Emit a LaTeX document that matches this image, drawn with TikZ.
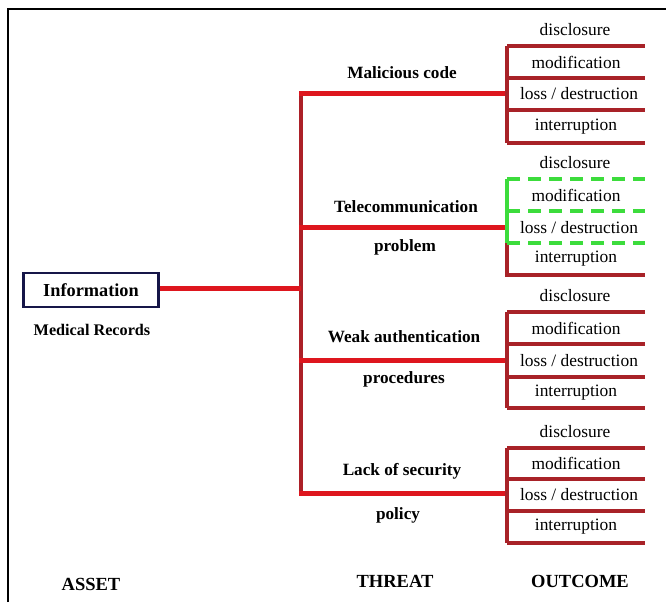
\documentclass[tikz,border=0pt]{standalone}
\usepackage{fontspec}
\setmainfont{Liberation Serif}
\definecolor{trunkred}{RGB}{172,32,40}
\definecolor{brightred}{RGB}{222,22,30}
\definecolor{outred}{RGB}{168,34,40}
\definecolor{dgreen}{RGB}{60,220,60}
\definecolor{navy}{RGB}{22,22,72}
\begin{document}
\begin{tikzpicture}[x=1pt,y=-1pt,
  trunkline/.style={draw=trunkred,line width=4.5pt},
  branchline/.style={draw=brightred,line width=5pt},
  outline/.style={draw=outred,line width=3.2pt},
  greenline/.style={draw=dgreen,line width=3.5pt,dash pattern=on 13pt off 8pt},
  outtext/.style={font=\fontsize{17.4}{19}\selectfont,inner sep=0pt},
  threattext/.style={font=\fontsize{17.2}{19}\selectfont\bfseries,inner sep=0pt},
  headtext/.style={font=\fontsize{18.5}{20}\selectfont\bfseries,inner sep=0pt},
  framepart/.style={draw=black,line width=1.2pt}]
\useasboundingbox (0,0) rectangle (666,602);
% frame (top and left)
\coordinate (fl) at (8,602);
\coordinate (ftl) at (8,9);
\coordinate (ftr) at (666,9);
\draw[framepart] (fl) -- (ftl) -- (ftr);
% asset
\node[draw=navy,line width=2.8pt,minimum width=135pt,minimum height=34pt,inner sep=0pt,
  font=\fontsize{18.3}{20}\selectfont\bfseries] (info) at (91,290) {Information};
\node[font=\fontsize{16.2}{18}\selectfont\bfseries,inner sep=0pt] (medrec) at (92,330) {Medical Records};
% trunk
\coordinate (trunktop) at (301,91);
\coordinate (trunkbot) at (301,495);
\coordinate (trunkmid) at (301,288);
\draw[trunkline] (trunktop) -- (trunkbot);
\draw[branchline] (info.east |- trunkmid) -- (trunkmid);
% branches
\foreach \k/\yy in {1/93,2/227,3/360,4/493}{
  \coordinate (bs\k) at (299,\yy);
  \coordinate (be\k) at (507,\yy);
  \draw[branchline] (bs\k) -- (be\k);
}
% threat labels
\node[threattext] (t1) at (402,73) {Malicious code};
\node[threattext] (t2a) at (406,207) {Telecommunication};
\node[threattext] (t2b) at (405,247) {problem};
\node[threattext] (t3a) at (404,337) {Weak authentication};
\node[threattext] (t3b) at (404,379) {procedures};
\node[threattext] (t4a) at (402,471) {Lack of security};
\node[threattext] (t4b) at (398,515) {policy};
% outcome groups (red)
\foreach \g/\ya/\yb/\yc/\yd in {1/46/78/110/143,3/312/344/377/408,4/448/479/511/543}{
  \coordinate (g\g a) at (507,\ya);
  \coordinate (g\g b) at (507,\yb);
  \coordinate (g\g c) at (507,\yc);
  \coordinate (g\g d) at (507,\yd);
  \coordinate (g\g aR) at (645,\ya);
  \coordinate (g\g bR) at (645,\yb);
  \coordinate (g\g cR) at (645,\yc);
  \coordinate (g\g dR) at (645,\yd);
  \draw[outline] (g\g a) -- (g\g d);
  \draw[outline] (g\g a) -- (g\g aR);
  \draw[outline] (g\g b) -- (g\g bR);
  \draw[outline] (g\g c) -- (g\g cR);
  \draw[outline] (g\g d) -- (g\g dR);
  \node[outtext] (dis\g) at (575,\ya-16) {disclosure};
  \node[outtext] (mod\g) at (576,{(\ya+\yb)/2}) {modification};
  \node[outtext] (los\g) at (579,{(\yb+\yc)/2}) {loss / destruction};
  \node[outtext] (int\g) at (576,{(\yc+\yd)/2}) {interruption};
}
% outcome group 2 (partly green)
\coordinate (g2a) at (507,179);
\coordinate (g2b) at (507,211);
\coordinate (g2c) at (507,243);
\coordinate (g2d) at (507,275);
\coordinate (g2aR) at (645,179);
\coordinate (g2bR) at (645,211);
\coordinate (g2cR) at (645,243);
\coordinate (g2dR) at (645,275);
\draw[outline] (g2c) -- (g2d) -- (g2dR);
\draw[draw=dgreen,line width=3.5pt] (g2a) -- (g2c);
\draw[greenline] (g2a) -- (g2aR);
\draw[greenline] (g2b) -- (g2bR);
\draw[greenline] (g2c) -- (g2cR);
\node[outtext] (dis2) at (575,163) {disclosure};
\node[outtext] (mod2) at (576,195) {modification};
\node[outtext] (los2) at (579,228) {loss / destruction};
\node[outtext] (int2) at (576,259) {interruption};
% column heads
\node[headtext] (asset) at (91,584) {ASSET};
\node[headtext] (threat) at (395,581) {THREAT};
\node[headtext] (outcome) at (580,581) {OUTCOME};
\end{tikzpicture}
\end{document}
